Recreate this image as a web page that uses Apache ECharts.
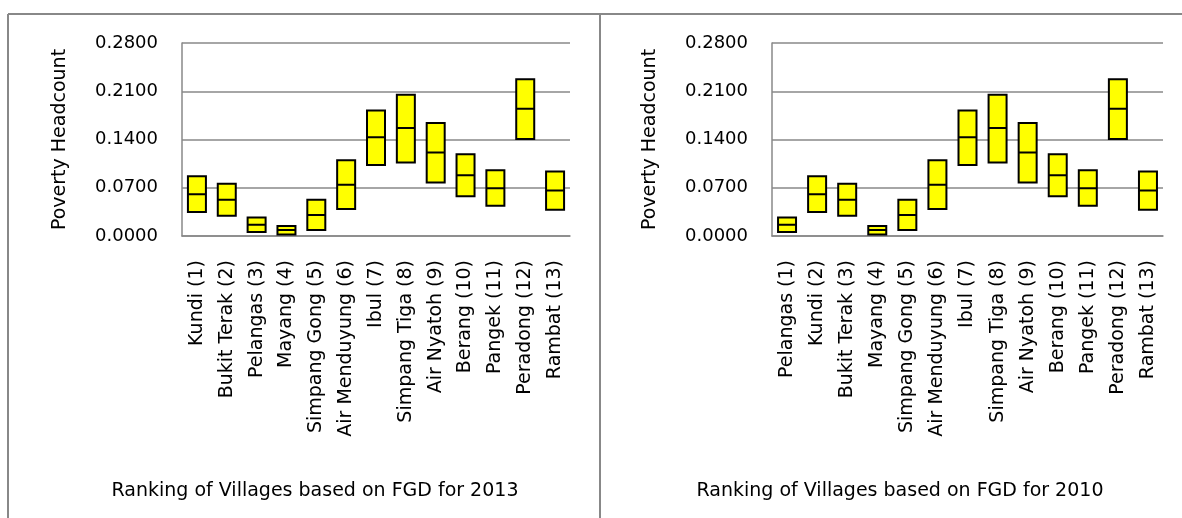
<!DOCTYPE html>
<html>
<head>
<meta charset="utf-8">
<title>Poverty Headcount ranking</title>
<script src="https://cdn.jsdelivr.net/npm/echarts@6/dist/echarts.min.js"></script>
<style>
    html, body { margin: 0; padding: 0; background: #fff; }
    #chart { width: 1182px; height: 518px; }
</style>
</head>
<body>
<div id="chart"></div>
<script>
// village names, in the 2013 ranking order
var villages = ['Kundi', 'Bukit Terak', 'Pelangas', 'Mayang', 'Simpang Gong', 'Air Menduyung', 'Ibul',
    'Simpang Tiga', 'Air Nyatoh', 'Berang', 'Pangek', 'Peradong', 'Rambat'];

// poverty headcount range per village (same order as villages)
var low  = [0.0347, 0.0294, 0.0058, 0.0020, 0.0087, 0.0390, 0.1031, 0.1065, 0.0776, 0.0578, 0.0439, 0.1407, 0.0381];
var mid  = [0.0607, 0.0525, 0.0164, 0.0087, 0.0304, 0.0742, 0.1431, 0.1566, 0.1210, 0.0882, 0.0694, 0.1846, 0.0660];
var high = [0.0868, 0.0757, 0.0270, 0.0145, 0.0525, 0.1099, 0.1822, 0.2048, 0.1639, 0.1186, 0.0954, 0.2275, 0.0935];

// ranking orders
var order2013 = ['Kundi', 'Bukit Terak', 'Pelangas', 'Mayang', 'Simpang Gong', 'Air Menduyung', 'Ibul',
    'Simpang Tiga', 'Air Nyatoh', 'Berang', 'Pangek', 'Peradong', 'Rambat'];
var order2010 = ['Pelangas', 'Kundi', 'Bukit Terak', 'Mayang', 'Simpang Gong', 'Air Menduyung', 'Ibul',
    'Simpang Tiga', 'Air Nyatoh', 'Berang', 'Pangek', 'Peradong', 'Rambat'];

// y axis ticks
var yMin = 0, yMax = 0.28, yStep = 0.07;

var FONT = 'DejaVu Sans';
var GRAY = '#888888';

function labels(order) {
    return order.map(function (name, i) {
        return name + ' (' + (i + 1) + ')';
    });
}

function boxes(order) {
    return order.map(function (name) {
        var k = villages.indexOf(name);
        // boxplot: [min, Q1, median, Q3, max] -> flat box from low to high
        return [low[k], low[k], mid[k], high[k], high[k]];
    });
}

function xAxisFor(gridIndex, order) {
    return {
        type: 'category',
        gridIndex: gridIndex,
        data: labels(order),
        axisLine: { lineStyle: { color: GRAY, width: 1.5 } },
        axisTick: { show: false },
        axisLabel: {
            rotate: 90,
            interval: 0,
            margin: 24,
            color: '#000',
            fontFamily: FONT,
            fontSize: 19
        }
    };
}

function yAxisFor(gridIndex) {
    return {
        type: 'value',
        gridIndex: gridIndex,
        min: yMin,
        max: yMax,
        interval: yStep,
        name: 'Poverty Headcount',
        nameLocation: 'middle',
        nameRotate: 90,
        nameGap: 112,
        nameTextStyle: { color: '#000', fontFamily: FONT, fontSize: 19 },
        axisLine: { show: true, lineStyle: { color: GRAY, width: 1.5 } },
        axisTick: { show: false },
        axisLabel: {
            margin: 24,
            color: '#000',
            fontFamily: FONT,
            fontSize: 18,
            formatter: function (v) { return v.toFixed(4); }
        },
        splitLine: { lineStyle: { color: GRAY, width: 1.5 } }
    };
}

function seriesFor(index, order) {
    return {
        type: 'boxplot',
        xAxisIndex: index,
        yAxisIndex: index,
        boxWidth: [18, 18],
        data: boxes(order),
        itemStyle: { color: '#ffff00', borderColor: '#000', borderWidth: 2 },
        emphasis: { disabled: true },
        silent: true
    };
}

var chart = echarts.init(document.getElementById('chart'));

chart.setOption({
    animation: false,
    grid: [
        { left: 182, top: 43, width: 388, height: 193 },
        { left: 772, top: 43, width: 391, height: 193 }
    ],
    xAxis: [xAxisFor(0, order2013), xAxisFor(1, order2010)],
    yAxis: [yAxisFor(0), yAxisFor(1)],
    series: [seriesFor(0, order2013), seriesFor(1, order2010)],
    graphic: [
        // panel frames
        { type: 'line', shape: { x1: 8, y1: 14, x2: 1182, y2: 14 }, style: { stroke: GRAY, lineWidth: 2 } },
        { type: 'line', shape: { x1: 8, y1: 14, x2: 8, y2: 518 }, style: { stroke: GRAY, lineWidth: 2 } },
        { type: 'line', shape: { x1: 600, y1: 14, x2: 600, y2: 518 }, style: { stroke: GRAY, lineWidth: 2 } },
        // panel titles
        {
            type: 'text', x: 315, y: 491,
            style: {
                text: 'Ranking of Villages based on FGD for 2013',
                fill: '#000', font: '19px "' + FONT + '"',
                textAlign: 'center', textVerticalAlign: 'middle'
            }
        },
        {
            type: 'text', x: 900, y: 491,
            style: {
                text: 'Ranking of Villages based on FGD for 2010',
                fill: '#000', font: '19px "' + FONT + '"',
                textAlign: 'center', textVerticalAlign: 'middle'
            }
        }
    ]
});
</script>
</body>
</html>
